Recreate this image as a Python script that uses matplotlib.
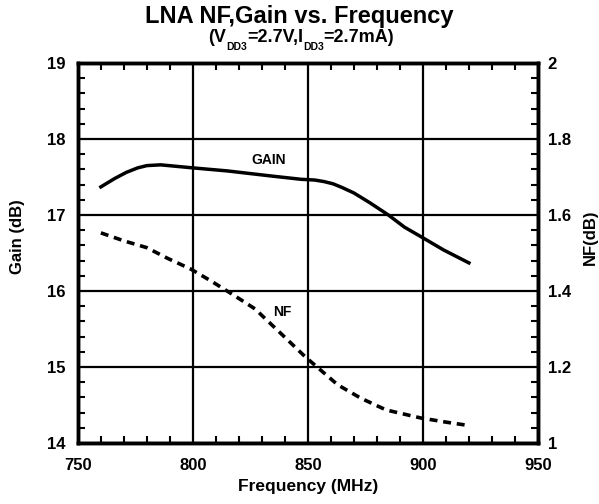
import numpy as np
import matplotlib
matplotlib.use('Agg')
import matplotlib.pyplot as plt
from matplotlib.ticker import MultipleLocator

plt.rcParams['font.family'] = 'Liberation Sans'
plt.rcParams['font.weight'] = 'bold'

# Datos
freq_gain = [760, 766, 771, 776, 780, 786, 800, 815, 835, 847, 853, 857, 861, 865, 870, 877, 885, 892, 900, 909, 920]
gain = [17.37, 17.48, 17.56, 17.62, 17.65, 17.66, 17.62, 17.58, 17.51, 17.47, 17.46, 17.44, 17.41, 17.36, 17.29, 17.16, 17.0, 16.84, 16.70, 16.54, 16.37]

freq_nf = [760, 770, 780, 789, 799, 808, 817, 827, 839, 849, 854, 863, 873, 884, 899, 910, 920]
nf = [1.553, 1.532, 1.514, 1.486, 1.458, 1.426, 1.392, 1.353, 1.284, 1.226, 1.2, 1.153, 1.118, 1.087, 1.066, 1.055, 1.046]

# Subtitulo con subindices: (texto, tamano, desplazamiento vertical en px)
subtitle_parts = [('(V', 13, 0), ('DD3', 7.5, -8), ('=2.7V,I', 13, 0), ('DD3', 7.5, -8), ('=2.7mA)', 13, 0)]

fig = plt.figure(figsize=(5.99, 5.04), dpi=100)
ax = fig.add_axes([0.130, 0.121, 0.768, 0.754])
ax2 = ax.twinx()

ax.plot(freq_gain, gain, color='black', lw=2.5)
ax2.plot(freq_nf, nf, color='black', lw=2.6, dashes=(2.2, 1.6))

ax.set_xlim(750, 950)
ax.set_ylim(14, 19)
ax2.set_ylim(1, 2)

ax.xaxis.set_major_locator(MultipleLocator(50))
ax.xaxis.set_minor_locator(MultipleLocator(10))
ax.yaxis.set_major_locator(MultipleLocator(1))
ax.yaxis.set_minor_locator(MultipleLocator(0.2))
ax2.yaxis.set_minor_locator(MultipleLocator(0.04))
ax2.set_yticks([1, 1.2, 1.4, 1.6, 1.8, 2])
ax2.set_yticklabels(['1', '1.2', '1.4', '1.6', '1.8', '2'])

ax.grid(True, which='major', color='black', lw=1.6)
ax.tick_params(which='both', direction='in', top=True, labelsize=12, width=1.5)
ax.tick_params(which='major', length=0)
ax.tick_params(which='minor', length=5)
ax.tick_params(axis='x', pad=11)
ax.tick_params(axis='y', pad=9)
ax2.tick_params(which='both', direction='in', labelsize=12, width=1.5)
ax2.tick_params(which='major', length=0, pad=7)
ax2.tick_params(which='minor', length=5)

for a in (ax, ax2):
    for s in a.spines.values():
        s.set_linewidth(2.5)

ax.set_xlabel('Frequency (MHz)', fontsize=12.5, fontweight='bold', labelpad=4)
fig.text(0.030, 0.53, 'Gain (dB)', rotation=90, fontsize=12, fontweight='bold', ha='center', va='center')
fig.text(0.985, 0.53, 'NF(dB)', rotation=90, fontsize=12, fontweight='bold', ha='center', va='center')

ax.text(833, 17.72, 'GAIN', fontsize=10, fontweight='bold', ha='center', va='center')
ax.text(839, 15.72, 'NF', fontsize=10, fontweight='bold', ha='center', va='center')

fig.text(0.50, 0.955, 'LNA NF,Gain vs. Frequency', fontsize=17, fontweight='bold', ha='center')

# Construir el subtitulo pieza por pieza
renderer = fig.canvas.get_renderer()
texts = []
for s, size, dy in subtitle_parts:
    t = fig.text(0, 0, s, fontsize=size, fontweight='bold')
    texts.append((t, dy))
widths = [t.get_window_extent(renderer).width for t, dy in texts]
W, H = fig.bbox.width, fig.bbox.height
x = 0.503 * W - sum(widths) / 2
base = H - 42
for (t, dy), w in zip(texts, widths):
    t.set_position((x / W, (base + dy) / H))
    x += w

fig.savefig('out.png', dpi=100)
